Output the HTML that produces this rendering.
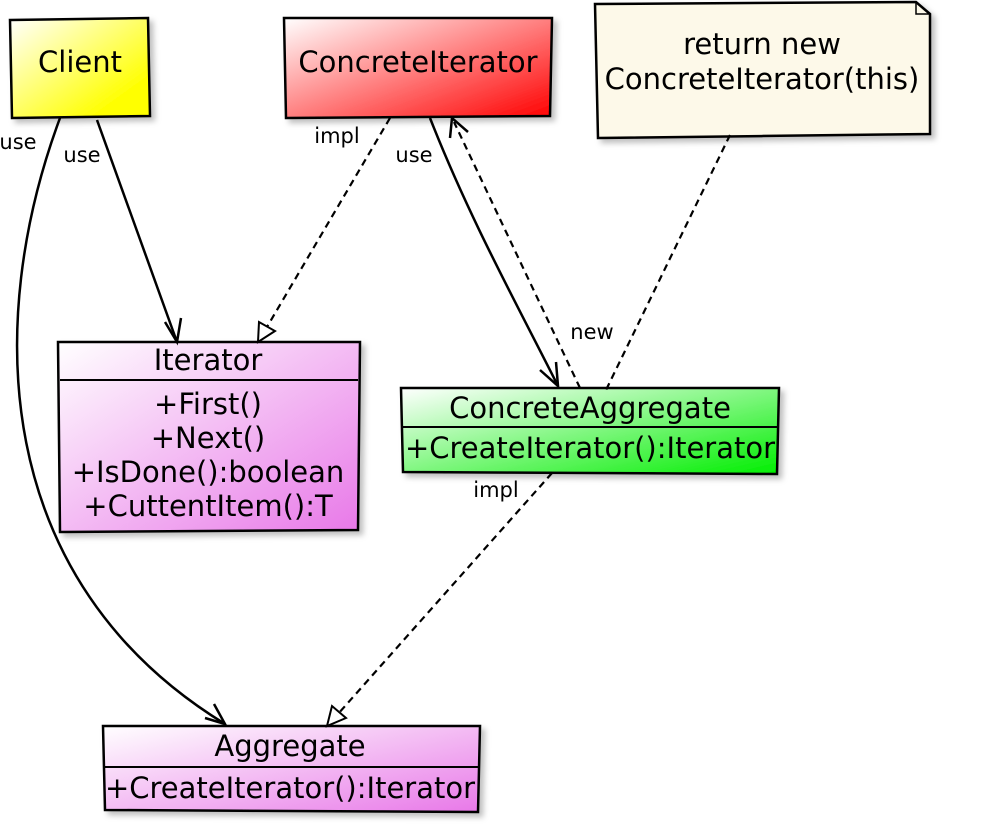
<!DOCTYPE html>
<html><head><meta charset="utf-8"><style>html,body{margin:0;padding:0;background:#fff}svg{display:block}</style></head>
<body>
<svg width="1000" height="834" viewBox="0 0 1000 834" xmlns="http://www.w3.org/2000/svg" font-family="'DejaVu Sans', 'Liberation Sans', sans-serif">
<defs>
<linearGradient id="gy" x1="0" y1="0" x2="1" y2="1"><stop offset="0" stop-color="#fff"/><stop offset="0.8" stop-color="#ffff00"/></linearGradient>
<linearGradient id="gr" x1="0" y1="0" x2="1" y2="1"><stop offset="0" stop-color="#fff"/><stop offset="1" stop-color="#ff0000"/></linearGradient>
<linearGradient id="gm" x1="0" y1="0" x2="1" y2="1"><stop offset="0" stop-color="#fff"/><stop offset="1" stop-color="#e878e8"/></linearGradient>
<linearGradient id="gg" x1="0" y1="0" x2="1" y2="1"><stop offset="0" stop-color="#fff"/><stop offset="1" stop-color="#00ee00"/></linearGradient>
<filter id="sh" x="-10%" y="-10%" width="130%" height="130%"><feDropShadow dx="4" dy="4" stdDeviation="3" flood-color="#000" flood-opacity="0.25"/></filter>
</defs>
<g stroke="#000" stroke-width="2.5" filter="url(#sh)">
<path d="M10,20 L148,18 L150,116 L12,118 Z" fill="url(#gy)"/>
<path d="M284,18 L552,18 L550,116 L286,118 Z" fill="url(#gr)"/>
<path d="M595,4 L916,2 L930,14 L930,134 L598,138 Z" fill="#fdf9e9"/>
<path d="M58,342 L360,342 L358,530 L60,532 Z" fill="url(#gm)"/>
<path d="M401,388 L779,388 L777,474 L403,472 Z" fill="url(#gg)"/>
<path d="M103,726 L480,726 L478,812 L105,810 Z" fill="url(#gm)"/>
</g>
<path d="M916,2 L916,14 L930,14" fill="none" stroke="#000" stroke-width="1.5"/>
<line x1="60" y1="380" x2="358" y2="380" stroke="#000" stroke-width="2"/>
<line x1="402" y1="427" x2="778" y2="427" stroke="#000" stroke-width="2"/>
<line x1="104" y1="767" x2="479" y2="767" stroke="#000" stroke-width="2"/>
<g font-size="29" text-anchor="middle" fill="#000">
<text x="80" y="72">Client</text>
<text x="418" y="72">ConcreteIterator</text>
<text x="762" y="54">return new</text>
<text x="762" y="89">ConcreteIterator(this)</text>
<text x="208" y="370">Iterator</text>
<text x="208" y="414">+First()</text>
<text x="208" y="448">+Next()</text>
<text x="208" y="482">+IsDone():boolean</text>
<text x="208" y="516">+CuttentItem():T</text>
<text x="590" y="418">ConcreteAggregate</text>
<text x="590" y="458">+CreateIterator():Iterator</text>
<text x="290" y="756">Aggregate</text>
<text x="290" y="798">+CreateIterator():Iterator</text>
</g>
<g fill="none" stroke="#000" stroke-width="2.5">
<path d="M60,118 C-15,320 -10,580 225,724"/>
<path d="M205,718 L225,724 L214,704"/>
<path d="M97,120 L177,342"/>
<path d="M165,322 L177,342 L181,318"/>
<path d="M430,118 C470,220 520,310 558,386"/>
<path d="M540,370 L558,386 L556,362"/>
</g>
<g fill="none" stroke="#000" stroke-width="2.2" stroke-dasharray="7,5">
<path d="M390,118 L264,332"/>
<path d="M580,388 L454,122"/>
<path d="M730,135 L606,390"/>
<path d="M552,473 L338,714"/>
</g>
<g stroke="#000" stroke-width="2">
<path d="M258,342 L259,322 L275,331 Z" fill="#fff"/>
<path d="M327,726 L332,706 L346,718 Z" fill="#fff"/>
<path d="M450,138 L452,118 L468,132" fill="none" stroke-width="2.5"/>
</g>
<g font-size="21" fill="#000" text-anchor="middle">
<text x="18" y="149">use</text>
<text x="82" y="162">use</text>
<text x="337" y="143">impl</text>
<text x="414" y="162">use</text>
<text x="592" y="339">new</text>
<text x="496" y="497">impl</text>
</g>
</svg>
</body></html>
